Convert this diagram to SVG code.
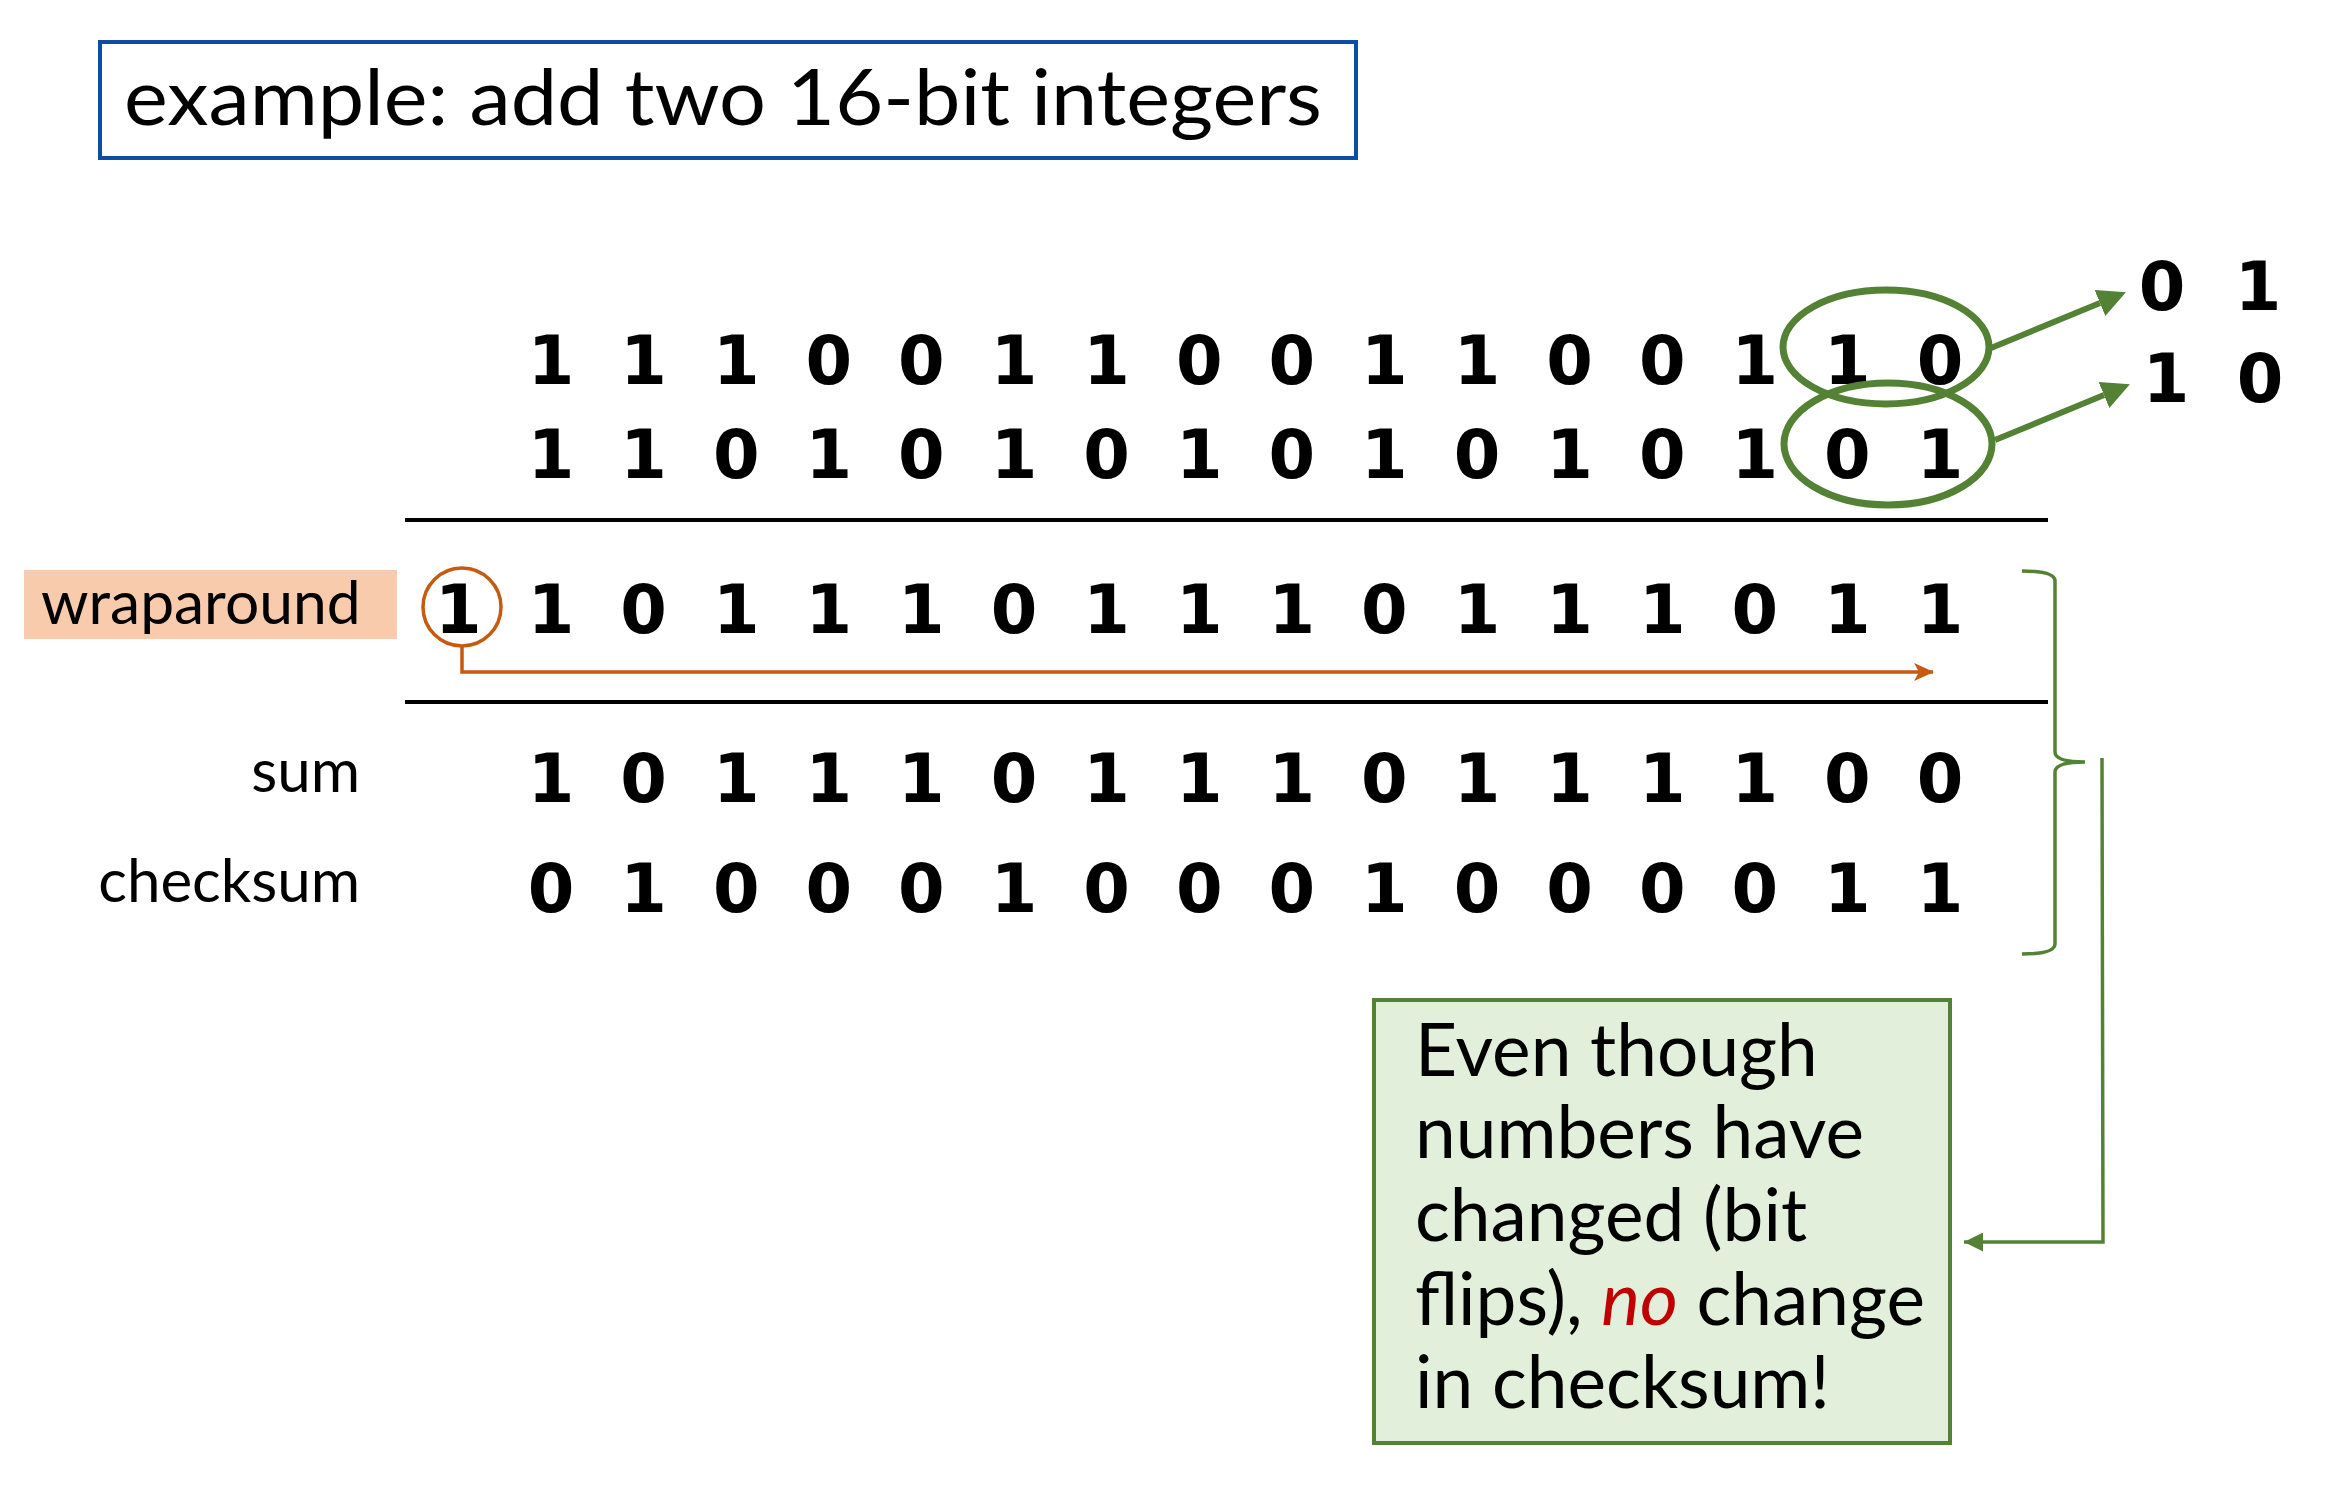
<svg xmlns="http://www.w3.org/2000/svg" width="2334" height="1486" viewBox="0 0 2334 1486">
<style>
.lbl{font-family:Lato,"Open Sans","Liberation Sans",sans-serif;fill:#000}
.end{text-anchor:end}
.dig{font-family:"DejaVu Sans",sans-serif;font-weight:bold;font-size:67px;fill:#000;text-anchor:middle}
.rule{stroke:#000;stroke-width:4}
.grn{fill:none;stroke:#548235}
</style>
<defs>
<marker id="gArrowBig" markerUnits="userSpaceOnUse" markerWidth="28" markerHeight="28" viewBox="0 0 28 28" refX="0" refY="14" orient="auto">
<path d="M0,0 L28,14 L0,28 z" fill="#548235"/>
</marker>
<marker id="gArrow" markerUnits="userSpaceOnUse" markerWidth="19" markerHeight="19" viewBox="0 0 19 19" refX="19" refY="9.5" orient="auto">
<path d="M0,0 L19,9.5 L0,19 z" fill="#548235"/>
</marker>
<marker id="oArrow" markerUnits="userSpaceOnUse" markerWidth="20" markerHeight="20" viewBox="0 0 20 20" refX="19" refY="10" orient="auto">
<path d="M0,1 L20,10 L0,19 L5,10 z" fill="#C55A11"/>
</marker>
</defs>
<rect width="2334" height="1486" fill="#fff"/>

<g id="title">
<rect x="100" y="42" width="1256" height="116" fill="#fff" stroke="#0E4DA4" stroke-width="4"/>
<text class="lbl" x="124" y="125" font-size="78" textLength="1198" lengthAdjust="spacingAndGlyphs">example: add two 16-bit integers</text>
</g>

<g id="rules">
<line class="rule" x1="405" y1="520" x2="2048" y2="520"/>
<line class="rule" x1="405" y1="702" x2="2048" y2="702"/>
</g>

<g id="row1">
<text class="dig" x="551 643.6 736.2 828.8 921.4 1014 1106.6 1199.2 1291.8 1384.4 1477 1569.6 1662.2 1754.8 1847.4 1940" y="384">1110011001100110</text>
</g>
<g id="row2">
<text class="dig" x="551 643.6 736.2 828.8 921.4 1014 1106.6 1199.2 1291.8 1384.4 1477 1569.6 1662.2 1754.8 1847.4 1940" y="478">1101010101010101</text>
</g>

<g id="wraparound-label">
<rect x="24" y="570" width="373" height="69" fill="#F8CBAD"/>
<text class="lbl" x="41" y="624" font-size="60.5">wraparound</text>
</g>
<g id="wrap-row">
<circle cx="462" cy="607" r="39" fill="none" stroke="#C55A11" stroke-width="3.5"/>
<text class="dig" x="458.4 551 643.6 736.2 828.8 921.4 1014 1106.6 1199.2 1291.8 1384.4 1477 1569.6 1662.2 1754.8 1847.4 1940" y="633">11011101110111011</text>
</g>

<g id="sum-row">
<text class="lbl end" x="360" y="792" font-size="60">sum</text>
<text class="dig" x="551 643.6 736.2 828.8 921.4 1014 1106.6 1199.2 1291.8 1384.4 1477 1569.6 1662.2 1754.8 1847.4 1940" y="802">1011101110111100</text>
</g>
<g id="checksum-row">
<text class="lbl end" x="360" y="902" font-size="60">checksum</text>
<text class="dig" x="551 643.6 736.2 828.8 921.4 1014 1106.6 1199.2 1291.8 1384.4 1477 1569.6 1662.2 1754.8 1847.4 1940" y="912">0100010001000011</text>
</g>

<g id="flipped-bits">
<ellipse class="grn" cx="1886" cy="347" rx="103" ry="57" stroke-width="7"/>
<ellipse class="grn" cx="1888" cy="444" rx="104" ry="61" stroke-width="7"/>
<text class="dig" x="2162 2258" y="310">01</text>
<text class="dig" x="2166 2260" y="402">10</text>
</g>

<g id="note">
<rect x="1374" y="1000" width="576" height="443" fill="#E2EFDA" stroke="#548235" stroke-width="4"/>
<text class="lbl" font-size="73">
<tspan x="1415" y="1076">Even though</tspan>
<tspan x="1415" y="1158">numbers have</tspan>
<tspan x="1415" y="1241">changed (bit</tspan>
<tspan x="1415" y="1325">flips), <tspan fill="#C00000" font-style="italic">no</tspan> change</tspan>
<tspan x="1415" y="1408">in checksum!</tspan>
</text>
</g>

<g id="connectors">
<path class="grn" d="M1991,348 L2100,303" stroke-width="6" marker-end="url(#gArrowBig)"/>
<path class="grn" d="M1995,440 L2104,395" stroke-width="6" marker-end="url(#gArrowBig)"/>
<path d="M462,646 L462,672 L1933,672" fill="none" stroke="#C55A11" stroke-width="3.5" marker-end="url(#oArrow)"/>
<path class="grn" d="M2022,571 Q2055,571 2055,581 L2055,752 Q2055,762 2085,762 Q2055,762 2055,772 L2055,944 Q2055,954 2022,954" stroke-width="3.5"/>
<path class="grn" d="M2102,758 L2103,1242 L1964,1242" stroke-width="3.5" marker-end="url(#gArrow)"/>
</g>
</svg>
